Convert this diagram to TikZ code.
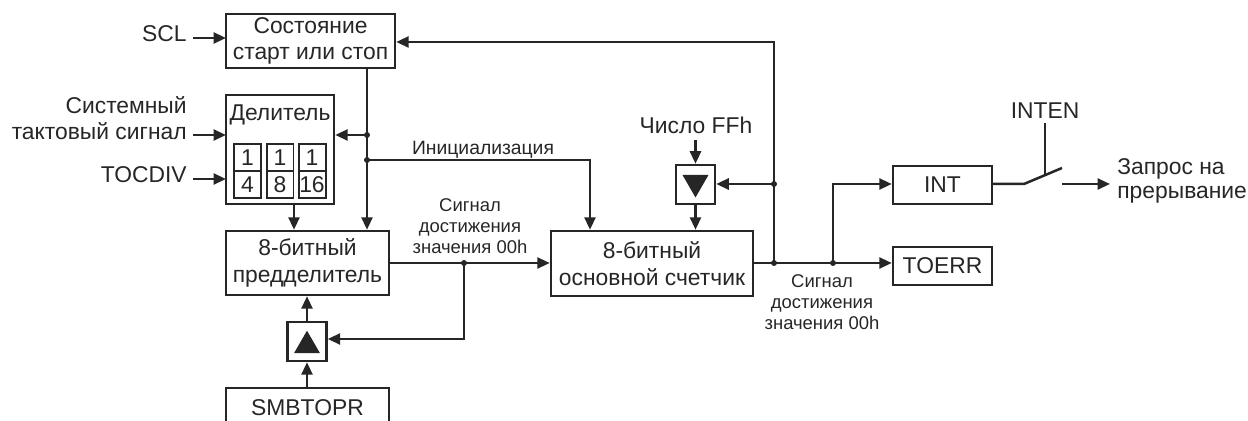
\documentclass[tikz,border=0pt]{standalone}
\usepackage{fontspec}
\setmainfont{Liberation Sans}
\usetikzlibrary{arrows.meta,shapes.geometric}
\tikzset{
	blk/.style={draw, line width=0.05cm, inner sep=0pt, align=center},
	sig/.style={line width=0.05cm, -{Triangle[length=0.25cm,width=0.22cm]}},
	wire/.style={line width=0.05cm},
	lbl/.style={inner sep=0pt, align=center},
	small/.style={lbl, font=\fontsize{10.5}{12}\selectfont},
	inlbl/.style={lbl, align=right, anchor=east, inner xsep=0.12cm},
	jdot/.style={circle, fill, inner sep=0pt, minimum size=0.12cm},
	tri/.style={regular polygon, regular polygon sides=3, fill, inner sep=0pt, minimum size=0.6cm},
}
\begin{document}
\begin{tikzpicture}[x=0.02cm, y=-0.02cm, font=\fontsize{13}{15.2}\selectfont, text=black!85, black!85]
	\useasboundingbox (0,0) rectangle (1248,421);
	% blocks
	\node[blk, minimum width=3.38cm, minimum height=1.08cm] (state) at (310.5,41) {Состояние\\старт или стоп};
	\node[blk, minimum width=2.16cm, minimum height=2.18cm] (div) at (280,149.5) {};
	\node[lbl] (divname) at (280,115) {Делитель};
	\node[blk, minimum width=3.26cm, minimum height=1.28cm] (pre) at (307.5,263) {8-битный\\предделитель};
	\node[blk, minimum width=4.04cm, minimum height=1.3cm] (cnt) at (652,263.5) {8-битный\\основной счетчик};
	\node[blk, minimum width=3.26cm, minimum height=0.8cm] (top) at (307.5,408) {SMBTOPR};
	\node[blk, minimum width=1.98cm, minimum height=0.76cm] (int) at (942.5,185) {INT};
	\node[blk, minimum width=1.98cm, minimum height=0.76cm] (err) at (942.5,266) {TOERR};
	% cells of the divider
	\foreach \x/\d in {247.5/4,280/8,312/16} {
		\node[blk, line width=0.04cm, minimum width=0.54cm, minimum height=0.54cm] (num\d) at (\x,157.5) {1};
		\node[blk, line width=0.04cm, minimum width=0.54cm, minimum height=0.54cm] (den\d) at (\x,185) {\d};
	}
	% load registers
	\node[blk, minimum width=0.78cm, minimum height=0.78cm] (uplatch) at (307,341.5) {};
	\node[tri] (uptri) at (307,345.7) {};
	\node[blk, minimum width=0.78cm, minimum height=0.78cm] (dnlatch) at (695.5,184.5) {};
	\node[tri, shape border rotate=180] (dntri) at (695.5,182.5) {};
	% inputs on the left
	\node[inlbl] (scl) at (193,34) {SCL};
	\node[inlbl] (clk) at (193,118) {Системный\\тактовый сигнал};
	\node[inlbl] (tocdiv) at (193,175) {TOCDIV};
	\coordinate (sclin) at (226,38);
	\coordinate (clkin) at (226,135);
	\coordinate (tocin) at (226,179);
	\draw[sig] (scl.east |- sclin) -- (sclin);
	\draw[sig] (clk.east |- clkin) -- (clkin);
	\draw[sig] (tocdiv.east |- tocin) -- (tocin);
	% reset line
	\node[jdot] (j1) at (367,135) {};
	\node[jdot] (j2) at (367,160) {};
	\draw[sig] (state.south -| j1) -- (pre.north -| j1);
	\draw[sig] (j1.center) -- (div.east |- j1);
	\coordinate (initdrop) at (590,160);
	\draw[sig] (j2.center) -- (initdrop) -- (cnt.north -| initdrop);
	\node[small, font=\fontsize{11}{12}\selectfont] (init) at (483,150) {Инициализация};
	\coordinate (divout) at (294,204);
	\draw[sig] (divout) -- (pre.north -| divout);
	% prescaler
	\node[jdot] (j3) at (464,263) {};
	\coordinate (upturn) at (464,339);
	\draw[sig] (pre.east |- j3) -- (cnt.west |- j3);
	\draw[sig] (j3.center) -- (upturn) -- (uplatch.east |- upturn);
	\draw[sig] (uplatch) -- (pre.south -| uplatch);
	\draw[sig] (top.north -| uplatch) -- (uplatch.south);
	\node[small] (presig) at (470,226) {Сигнал\\достижения\\значения 00h};
	% counter
	\node[lbl, inner ysep=0.12cm] (ffh) at (696,125) {Число FFh};
	\draw[sig] (ffh.south -| dnlatch) -- (dnlatch.north);
	\draw[sig] (dnlatch.south) -- (cnt.north -| dnlatch);
	\node[jdot] (j4) at (774,263) {};
	\node[jdot] (j5) at (774,184) {};
	\node[jdot] (j6) at (833,263) {};
	\coordinate (backturn) at (774,42);
	\draw[sig] (j4.center) -- (backturn) -- (state.east |- backturn);
	\draw[sig] (j5.center) -- (dnlatch.east |- j5);
	\draw[sig] (cnt.east |- j4) -- (err.west |- j4);
	\coordinate (intturn) at (833,184);
	\draw[sig] (j6.center) -- (intturn) -- (int.west |- intturn);
	\node[small] (cntsig) at (822,302) {Сигнал\\достижения\\значения 00h};
	% switch
	\node[lbl, inner ysep=0.08cm] (inten) at (1045,111) {INTEN};
	\node[lbl, align=left, anchor=west, inner xsep=0.14cm, font=\fontsize{13}{13.5}\selectfont] (irq) at (1110,181) {Запрос на\\прерывание};
	\coordinate (swa) at (1024,184);
	\coordinate (swb) at (1062,168);
	\coordinate (swc) at (1062,184);
	\coordinate (swm) at (1045,175);
	\draw[wire] (int.east |- swa) -- (swa) -- (swb);
	\draw[wire] (inten.south) -- (swm);
	\draw[sig] (swc) -- (irq.west |- swc);
\end{tikzpicture}
\end{document}
